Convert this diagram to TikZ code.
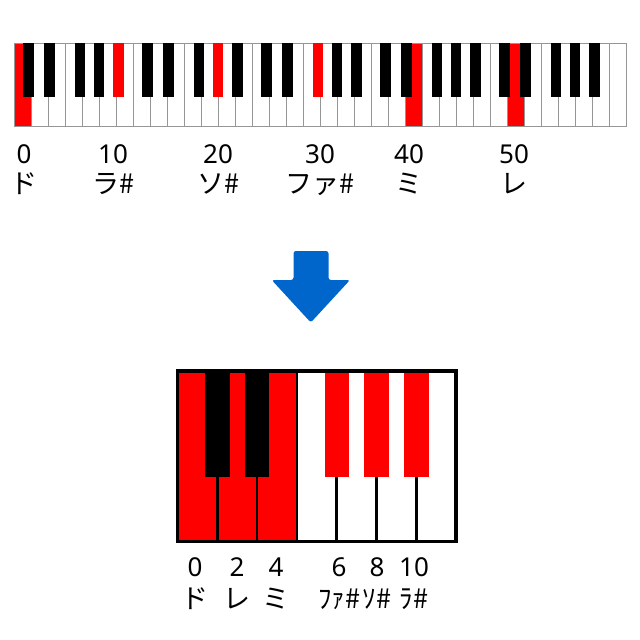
\documentclass[tikz,border=0pt]{standalone}
\usepackage{fontspec}
\setmainfont{Noto Sans}
\newfontfamily\cjk{Noto Sans CJK JP}
\definecolor{keyred}{RGB}{255,0,0}
\definecolor{keygray}{RGB}{150,150,150}
\definecolor{arrowblue}{RGB}{0,102,204}
\newcommand{\keylabel}[2]{#1\\{\cjk\fontsize{27}{30}\selectfont #2}}
\newcommand{\keylabelb}[2]{#1\\[2pt]{\cjk\fontsize{27}{30}\selectfont #2}}
\begin{document}
\begin{tikzpicture}[x=1pt,y=-1pt,
  lbl/.style={inner sep=0pt,anchor=base,align=center,font=\fontsize{26}{30}\selectfont},
  topwhite/.style={draw=keygray,line width=0.9pt},
]
\useasboundingbox (0,0) rectangle (640,640);
\fill[white] (0,0) rectangle (640,640);

% ---- top keyboard: 36 white keys ----
\foreach \i in {0,...,35}{
  \pgfmathsetmacro{\xa}{14+17*\i}
  \pgfmathsetmacro{\xb}{14+17*(\i+1)}
  \ifnum\i=0 \def\fc{keyred}\else\ifnum\i=23 \def\fc{keyred}\else\ifnum\i=29 \def\fc{keyred}\else\def\fc{white}\fi\fi\fi
  \draw[topwhite,fill=\fc] (\xa,43) rectangle (\xb,126);
}
% black keys: boundary index within octave and offset
\foreach \o in {0,...,4}{
  \foreach \b/\off/\n in {1/-2.3/1,2/1.7/3,4/-2/6,5/0/8,6/2.7/10}{
    \pgfmathsetmacro{\xc}{14+17*(7*\o+\b)+\off}
    \pgfmathtruncatemacro{\note}{12*\o+\n}
    \ifnum\note=10 \def\bc{keyred}\else\ifnum\note=20 \def\bc{keyred}\else\ifnum\note=30 \def\bc{keyred}\else\def\bc{black}\fi\fi\fi
    \fill[\bc] (\xc-5.35,43) rectangle (\xc+5.35,97);
  }
}

% ---- top labels ----
\node[lbl] (k0)  at (24,193)  {\keylabel{0}{ド}};
\node[lbl] (k10) at (113,193) {\keylabel{10}{ラ\#}};
\node[lbl] (k20) at (218,193) {\keylabel{20}{ソ\#}};
\node[lbl] (k30) at (320,193) {\keylabel{30}{ファ\#}};
\node[lbl] (k40) at (409,193) {\keylabel{40}{ミ}};
\node[lbl] (k50) at (514,193) {\keylabel{50}{レ}};

% ---- arrow ----
\fill[arrowblue,rounded corners=2.5pt]
  (293.5,251) -- (328.5,251) -- (328.5,280) -- (350,280) -- (310.8,322.5)
  -- (271.7,280) -- (293.5,280) -- cycle;

% ---- bottom keyboard ----
\fill[keyred] (177.5,371) rectangle (297,541.5);
\foreach \k in {1,...,6}{
  \pgfmathsetmacro{\xd}{177.5+39.8*\k}
  \draw[line width=2.6pt] (\xd,371) -- (\xd,541.5);
}
\foreach \k/\c in {1/black,2/black,4/keyred,5/keyred,6/keyred}{
  \pgfmathsetmacro{\xd}{177.5+39.8*\k}
  \fill[\c] (\xd-12.2,371) rectangle (\xd+12.2,477);
}
\draw[line width=3.2pt] (177.5,371) rectangle (456,541.5);

% ---- bottom labels ----
\node[lbl] (b0)  at (195,608) {\keylabelb{0}{ド}};
\node[lbl] (b2)  at (237,608) {\keylabelb{2}{レ}};
\node[lbl] (b4)  at (276,608) {\keylabelb{4}{ミ}};
\node[lbl] (b6)  at (339,608) {\keylabelb{6}{ﾌｧ\#}};
\node[lbl] (b8)  at (377,608) {\keylabelb{8}{ｿ\#}};
\node[lbl] (b10) at (414,608) {\keylabelb{10}{ﾗ\#}};
\end{tikzpicture}
\end{document}
